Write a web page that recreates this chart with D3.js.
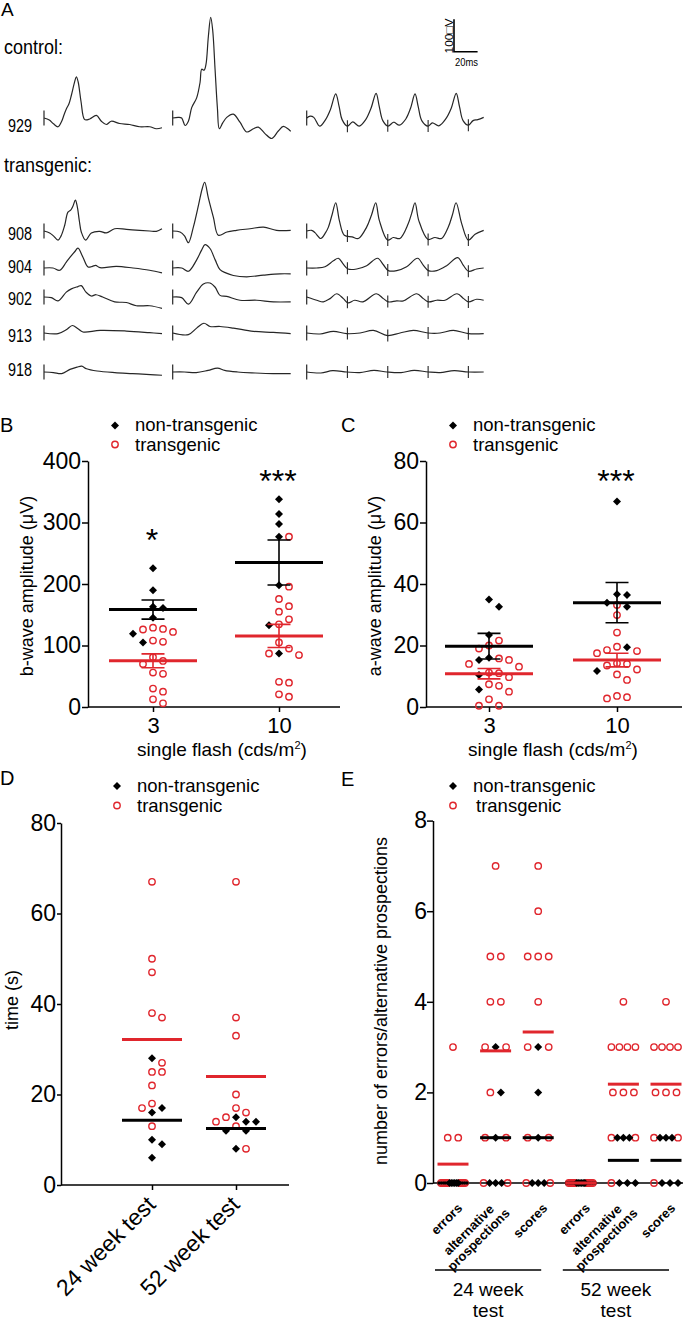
<!DOCTYPE html>
<html>
<head>
<meta charset="utf-8">
<script src="https://cdn.jsdelivr.net/npm/d3@7"></script>
<style>
body { margin: 0; background: #fff; }
svg { display: block; font-family: "Liberation Sans", Arial, sans-serif; }
</style>
</head>
<body>
<svg id="fig" width="688" height="1322"></svg>
<script>
"use strict";

// ---- A: ERG traces, points are [ms, uV] ----
var rowLabels = ["929", "908", "904", "902", "913", "918"];
var trace929a = [[0,0],[4.5,-6],[8,-18],[12,-27],[15,-10],[17,10],[19.2,30],[21,42],[23.2,70],[26,112],[27.4,127],[29,110],[31.4,50],[34.5,-5],[38.7,-3],[44.4,8],[48.6,-10],[52.8,-20],[57,-10],[64.1,-17],[72.6,-20],[81.1,-27],[89.5,-27],[95.2,-33],[100,-30]];
var trace929b = [[0,0],[4.8,2],[7.6,0],[10.5,-23],[13.3,-10],[16.1,32],[20.3,62],[23.2,110],[24.6,150],[26.6,147],[28.2,165],[30.2,250],[32.2,310],[33.9,270],[35.9,150],[37.9,30],[39.5,-33],[42.4,-15],[45.8,2],[51.4,12],[57,-13],[62.7,-43],[68.4,-33],[72.6,-28],[78.2,-48],[83.9,-63],[89.5,-40],[93.8,-26],[100,-41]];
var trace929c = [[0,0],[3,6],[6,2],[11,-25],[16,-5],[20,25],[24.6,74],[27.5,35],[30,-5],[34.5,-25],[39,-12],[44.5,-25],[50,-5],[54.5,30],[58.8,76],[61.5,35],[64.5,-8],[68.9,-25],[73.7,-13],[78.5,-22],[84,-3],[88,30],[91.8,74],[94.5,35],[97.5,-8],[102.8,-25],[106.5,-15],[112,-24],[118,-2],[122.5,30],[126.7,76],[129.5,35],[132.5,-8],[137,-22],[141,-8],[145,-5],[150,2]];
var trace908a = [[0,0],[4.8,-6],[8,-15],[11.9,-28],[14.5,-15],[17.5,17],[20.3,58],[22.6,64],[24.6,77],[26.6,95],[28.2,75],[30,30],[31.6,-3],[35.3,-28],[40.1,-6],[47.2,-1],[52.8,-6],[59.9,7],[69.8,5],[81.1,2],[89.5,0],[95.2,-1],[100,7]];
var trace908b = [[0,0],[6.2,-3],[10,-15],[13.3,-36],[17.5,12],[22,82],[25,130],[27.1,150],[30.2,102],[34.5,42],[38.7,-13],[46,-3],[54,2],[65.5,7],[77,12],[88,2],[100,2]];
var trace908c = [[0,0],[4.2,2],[7,-5],[11.9,-23],[16,-5],[18.4,12],[21.5,50],[24.6,87],[27.7,32],[31.9,-13],[38.4,-18],[43.8,-23],[50.8,12],[55,50],[58.5,87],[61.6,32],[68.6,-28],[73.4,-20],[79,-23],[86,22],[89,55],[91.8,87],[95,32],[102.8,-26],[108.6,-20],[114.3,-23],[120,12],[123.5,50],[126.6,87],[131.4,22],[137,-28],[142.7,-10],[150,2]];
var trace904a = [[0,0],[7.6,0],[13.3,-7],[18.9,18],[23.2,38],[26,50],[28.8,61],[33,33],[37.3,3],[41,5],[43.8,8],[47.5,1],[61.3,5],[75.4,0],[89.5,-7],[100,-15]];
var trace904b = [[0,0],[7.6,0],[13.3,-10],[20.3,25],[24.5,55],[27.4,72],[31.6,60],[36,25],[40.1,-5],[45,-15],[51.4,-23],[62.7,-27],[76.8,-22],[90.9,-18],[100,-18]];
var trace904c = [[0,0],[8.5,0],[15.5,4],[22.6,22],[26.8,30],[31,12],[35,-3],[42.4,-3],[50.8,7],[60,30],[65,10],[69.2,-8],[76.3,-8],[84.7,4],[94,30],[98.9,8],[103.1,-8],[110.2,-8],[118.6,7],[128,32],[132.8,8],[137,-10],[144,-3],[150,0]];
var trace902a = [[0,0],[6.2,-2],[11.9,-12],[18.9,15],[23.2,25],[28.8,32],[31.6,35],[35.6,15],[40.1,3],[44.1,7],[49.7,0],[59.9,-15],[69.8,-17],[78.2,-27],[89.5,-27],[100,-35]];
var trace902b = [[0,0],[7.6,-2],[13.3,-22],[20.3,15],[26,40],[31.6,43],[36,30],[40.1,5],[45.8,2],[57,-10],[71.2,-10],[85.3,-15],[100,-15]];
var trace902c = [[0,0],[8.5,-10],[14.1,-15],[19.8,-5],[25.4,10],[31.1,-5],[35,-18],[40.7,-10],[47.7,-15],[59,10],[65,-5],[69.2,-15],[76.3,-12],[81.9,-12],[93.2,10],[98.9,-5],[103.1,-15],[110.2,-10],[117.2,-10],[127.4,10],[133,-5],[137,-15],[144,-7],[150,-10]];
var trace913a = [[0,0],[11.9,-2],[18.9,10],[24,23],[28.8,13],[33,3],[47.5,8],[69.8,6],[89.5,1],[100,-2]];
var trace913b = [[0,0],[13.3,-5],[20.3,15],[26.5,30],[31.6,20],[40.1,20],[51.4,15],[68.4,5],[85.3,2],[100,-2]];
var trace913c = [[0,0],[11.3,-3],[22.6,5],[33.9,-2],[45.2,0],[56.5,8],[68.6,-8],[79.1,0],[90.4,8],[102.8,0],[113,0],[124.3,8],[137,-2],[150,-2]];
var trace918a = [[0,0],[8,-2],[15,-5],[22,8],[28,15],[32,18],[36,10],[45,3],[60,-2],[75,-5],[90,-8],[100,-10]];
var trace918b = [[0,0],[10,0],[20,-2],[30,5],[38,12],[44,5],[55,0],[70,-3],[85,-5],[100,-5]];
var trace918c = [[0,0],[12,-3],[22,4],[34,0],[45,-2],[57,5],[68,0],[80,-2],[91,5],[103,0],[113,-2],[125,4],[137,0],[150,0]];
var flickerMarks = [34.5, 68.7, 102.9, 137];
var scaleBarUv = 100, scaleBarMs = 20;

// ---- B / C: single flash ----
var flashLevels = ["3", "10"];
var bNonTg3 = [225.5, 190, 163, 161, 145, 119, 105];
var bTg3 = [129, 126, 122, 127, 108, 106, 81, 70, 75, 54, 56, 30, 25, 12.5, 6];
var bNonTg10 = [338, 314, 297.5, 277, 198, 133, 87];
var bTg10 = [277, 195.6, 175.6, 164, 155, 142.6, 134.5, 105, 87, 84.5, 95, 41, 39.5, 16.7, 20.6];
var bStars = ["*", "***"], bStarAt = [283, 380];
var cNonTg3 = [32.6, 35, 23.4, 15.3, 16, 10.4, 5.7];
var cTg3 = [21.6, 20, 19, 15.8, 15.3, 14, 13.1, 11.2, 11, 9.7, 7.4, 6.9, 5, 2.5, 0.4, 0.4];
var cNonTg10 = [66.8, 36.7, 36.4, 32.6, 33.9, 19.4, 11.7];
var cTg10 = [33.2, 29.9, 24.2, 18.2, 17.5, 18.5, 19.6, 14.2, 14, 13.5, 12.2, 10.6, 8.8, 3.6, 2.8, 3.2];
var cStars = ["", "***"], cStarAt = [0, 76];

// ---- D: time ----
var dTests = ["24 week test", "52 week test"];
var dNonTg24 = [28, 16, 17, 10, 9, 6];
var dTg24 = [67, 50, 47, 38, 37, 27, 25, 25, 22, 18, 17, 13];
var dNonTg52 = [14, 14, 15, 12, 12, 8];
var dTg52 = [67, 37, 33, 20, 16, 17, 15, 14, 13, 8];

// ---- E: errors / alternative prospections ----
var eMeasures = ["errors", "alternative|prospections", "scores"];
var eTests = ["24 week|test", "52 week|test"];
var eNonTgErr24 = [0, 0, 0, 0, 0, 0];
var eTgErr24 = [3, 1, 1, 0, 0, 0, 0, 0, 0, 0, 0, 0];
var eNonTgAlt24 = [3, 2, 1, 0, 0, 0];
var eTgAlt24 = [7, 5, 5, 4, 4, 3, 3, 2, 1, 1, 0, 0];
var eNonTgSco24 = [3, 2, 1, 0, 0, 0];
var eTgSco24 = [7, 6, 5, 5, 5, 4, 3, 3, 1, 1, 0, 0];
var eNonTgErr52 = [0, 0, 0, 0, 0, 0];
var eTgErr52 = [0, 0, 0, 0, 0, 0, 0, 0, 0, 0];
var eNonTgAlt52 = [1, 1, 1, 0, 0, 0];
var eTgAlt52 = [4, 3, 3, 3, 3, 2, 2, 2, 1, 1, 0];
var eNonTgSco52 = [1, 1, 1, 0, 0, 0];
var eTgSco52 = [4, 3, 3, 3, 3, 2, 2, 2, 1, 1, 0];

var red = "#e0262d", ink = "#000", traceInk = "#262626";
var svg = d3.select("#fig");

function txt(g, x, y, s, size) {
    return g.append("text").attr("x", x).attr("y", y).attr("font-size", size).attr("fill", ink).text(s);
}

function valueAt(tr, t) {
    var i = d3.bisector(function (d) { return d[0]; }).left(tr, t);
    if (i <= 0) return tr[0][1];
    if (i >= tr.length) return tr[tr.length - 1][1];
    var a = tr[i - 1], b = tr[i];
    return a[1] + (b[1] - a[1]) * (t - a[0]) / (b[0] - a[0]);
}

// ---------------- panel A ----------------
var gA = svg.append("g");
var traces = [
    [trace929a, trace929b, trace929c],
    [trace908a, trace908b, trace908c],
    [trace904a, trace904b, trace904c],
    [trace902a, trace902b, trace902c],
    [trace913a, trace913b, trace913c],
    [trace918a, trace918b, trace918c]
];
var rowBase = [118, 231, 268, 297, 333, 372];
var rowLabelY = [132, 240, 273, 305, 342, 376];
var colX = [
    d3.scaleLinear().domain([0, 100]).range([44, 162]),
    d3.scaleLinear().domain([0, 100]).range([172.7, 290.7]),
    d3.scaleLinear().domain([0, 150]).range([306.7, 483.7])
];

txt(gA, 1, 16, "A", 19);
txt(gA, 4, 54, "control:", 21).attr("textLength", 59).attr("lengthAdjust", "spacingAndGlyphs");
txt(gA, 4, 172, "transgenic:", 21).attr("textLength", 88).attr("lengthAdjust", "spacingAndGlyphs");

traces.forEach(function (row, r) {
    var y = d3.scaleLinear().domain([0, 100]).range([rowBase[r], rowBase[r] - 32.5]);
    txt(gA, 8, rowLabelY[r], rowLabels[r], 19).attr("textLength", 24).attr("lengthAdjust", "spacingAndGlyphs");
    row.forEach(function (tr, c) {
        var x = colX[c];
        var line = d3.line()
            .x(function (d) { return x(d[0]); })
            .y(function (d) { return y(d[1]); })
            .curve(d3.curveCatmullRom.alpha(0.5));
        gA.append("path").attr("d", line(tr))
            .attr("fill", "none").attr("stroke", traceInk).attr("stroke-width", 1.2);
        gA.append("line").attr("x1", x(0)).attr("x2", x(0))
            .attr("y1", rowBase[r] - 7.5).attr("y2", rowBase[r] + 7.5)
            .attr("stroke", traceInk).attr("stroke-width", 1.2);
        if (c === 2) {
            flickerMarks.forEach(function (t) {
                var yy = y(valueAt(tr, t));
                gA.append("line").attr("x1", x(t)).attr("x2", x(t))
                    .attr("y1", yy - 6).attr("y2", yy + 6)
                    .attr("stroke", traceInk).attr("stroke-width", 1.1);
            });
        }
    });
});

// scale bar
var sbX = d3.scaleLinear().domain([0, 100]).range([0, 118]);
var sbY = d3.scaleLinear().domain([0, 100]).range([0, 32.5]);
gA.append("path")
    .attr("d", "M454," + (51.7 - sbY(scaleBarUv)) + "V51.7H" + (454 + sbX(scaleBarMs)))
    .attr("fill", "none").attr("stroke", ink).attr("stroke-width", 1.6);
txt(gA, 0, 0, "100\u25A1V", 11).attr("text-anchor", "middle")
    .attr("transform", "translate(453,36) rotate(-90)")
    .attr("textLength", 35).attr("lengthAdjust", "spacingAndGlyphs");
txt(gA, 455, 66, "20ms", 11).attr("textLength", 23).attr("lengthAdjust", "spacingAndGlyphs");

// ---------------- shared helpers ----------------
function beeswarm(pts, y, cx, step, minD) {
    var placed = [];
    pts.slice().sort(function (a, b) { return b.v - a.v; }).forEach(function (p) {
        var py = y(p.v);
        for (var k = 0; k < 30; k++) {
            var px = cx + (k % 2 ? 1 : -1) * Math.ceil(k / 2) * step;
            var hit = placed.some(function (q) { return Math.hypot(q.x - px, q.y - py) < minD; });
            if (!hit) { placed.push({ x: px, y: py, g: p.g }); break; }
        }
    });
    return placed;
}

function rowSwarm(pts, y, cx, step, maxW) {
    var out = [];
    d3.group(pts, function (d) { return d.v; }).forEach(function (list, v) {
        var n = list.filter(function (d) { return d.g === "n"; });
        var t = list.filter(function (d) { return d.g === "t"; });
        var half = Math.ceil(t.length / 2);
        var ord = t.slice(0, half).concat(n, t.slice(half));
        var s = ord.length > 1 ? Math.min(step, maxW / (ord.length - 1)) : 0;
        ord.forEach(function (p, i) {
            out.push({ x: cx + (i - (ord.length - 1) / 2) * s, y: y(v), g: p.g });
        });
    });
    return out;
}

function tagged(nonTg, tg) {
    return nonTg.map(function (v) { return { v: v, g: "n" }; })
        .concat(tg.map(function (v) { return { v: v, g: "t" }; }));
}

var diamond = d3.symbol(d3.symbolSquare, 32);

function drawMarks(g, pts) {
    g.selectAll(null).data(pts.filter(function (d) { return d.g === "t"; })).enter()
        .append("circle")
        .attr("cx", function (d) { return d.x; }).attr("cy", function (d) { return d.y; })
        .attr("r", 3.2).attr("fill", "none").attr("stroke", red).attr("stroke-width", 1.4);
    g.selectAll(null).data(pts.filter(function (d) { return d.g === "n"; })).enter()
        .append("path").attr("d", diamond)
        .attr("transform", function (d) { return "translate(" + d.x + "," + d.y + ") rotate(45)"; })
        .attr("fill", ink);
}

function drawStats(g, vals, cx, y, color, halfW, withSem) {
    var m = d3.mean(vals);
    if (withSem) {
        var s = d3.deviation(vals) / Math.sqrt(vals.length);
        g.append("path")
            .attr("d", "M" + cx + "," + y(m - s) + "V" + y(m + s) +
                "M" + (cx - 11.5) + "," + y(m + s) + "H" + (cx + 11.5) +
                "M" + (cx - 11.5) + "," + y(m - s) + "H" + (cx + 11.5))
            .attr("fill", "none").attr("stroke", color).attr("stroke-width", 1.6);
    }
    g.append("line").attr("x1", cx - halfW).attr("x2", cx + halfW)
        .attr("y1", y(m)).attr("y2", y(m))
        .attr("stroke", color).attr("stroke-width", 3);
}

function legend(g, x, yTop, textX1, textX2, yGap) {
    g.append("path").attr("d", diamond).attr("transform", "translate(" + x + "," + yTop + ") rotate(45)").attr("fill", ink);
    txt(g, textX1, yTop + 5.5, "non-transgenic", 18.5);
    g.append("circle").attr("cx", x).attr("cy", yTop + yGap).attr("r", 3.2)
        .attr("fill", "none").attr("stroke", red).attr("stroke-width", 1.4);
    txt(g, textX2, yTop + yGap + 6, "transgenic", 18.5);
}

function yAxis(g, y, x0, ticks, tickLen, pad) {
    var a = g.append("g").attr("transform", "translate(" + x0 + ",0)")
        .call(d3.axisLeft(y).tickValues(ticks).tickSize(tickLen).tickSizeOuter(0).tickPadding(pad));
    a.attr("font-size", 23).attr("font-family", null);
    a.selectAll("path,line").attr("stroke", ink).attr("stroke-width", 1.5);
    a.selectAll("text").attr("fill", ink);
    return a;
}

function xAxisLine(g, x0, x1, y0) {
    g.append("line").attr("x1", x0).attr("x2", x1).attr("y1", y0).attr("y2", y0)
        .attr("stroke", ink).attr("stroke-width", 1.5);
}

function rotLabel(g, x, y, s, size, angle) {
    txt(g, 0, 0, s, size).attr("text-anchor", "middle")
        .attr("transform", "translate(" + x + "," + y + ") rotate(" + angle + ")");
}

// ---------------- panels B and C ----------------
function flashPanel(o) {
    var g = svg.append("g");
    var y = d3.scaleLinear().domain(o.domain).range([707, 461]);
    var x = d3.scalePoint().domain(flashLevels).range(o.catRange);
    txt(g, o.letterX, 432, o.letter, 20);
    legend(g, o.legX, 425.5, o.legX + 20, o.legX + 20, 19);

    yAxis(g, y, o.axisX, o.ticks, 6, 1);
    xAxisLine(g, o.axisX, o.axisEnd, 707);
    var xa = g.append("g").attr("transform", "translate(0,707)")
        .call(d3.axisBottom(x).tickSize(5).tickPadding(5));
    xa.attr("font-size", 22).attr("font-family", null);
    xa.select(".domain").remove();
    xa.selectAll("line").attr("stroke", ink).attr("stroke-width", 1.5);
    xa.selectAll("text").attr("fill", ink);

    rotLabel(g, o.yLabelX, 586, o.yLabel, 18, -90);
    var xl = txt(g, o.xLabelX, 756, "single flash (cds/m", 19).attr("text-anchor", "middle");
    xl.append("tspan").attr("font-size", 11).attr("dy", -7).text("2");
    xl.append("tspan").attr("dy", 7).text(")");

    var sets = [[o.non[0], o.tg[0]], [o.non[1], o.tg[1]]];
    sets.forEach(function (s, i) {
        var cx = x(flashLevels[i]);
        drawMarks(g, beeswarm(tagged(s[0], s[1]), y, cx, 10, 9));
        drawStats(g, s[0], cx, y, ink, 44, true);
        drawStats(g, s[1], cx, y, red, 44, true);
        if (o.stars[i]) {
            txt(g, cx - 1, y(o.starAt[i]) + 18.5, o.stars[i], 32).attr("text-anchor", "middle");
        }
    });
}

flashPanel({
    letter: "B", letterX: 0, legX: 115, domain: [0, 400], ticks: [0, 100, 200, 300, 400],
    axisX: 88, axisEnd: 340, catRange: [153, 279], yLabel: "b-wave amplitude (\u03bcV)", yLabelX: 33, xLabelX: 222,
    non: [bNonTg3, bNonTg10], tg: [bTg3, bTg10], stars: bStars, starAt: bStarAt
});
flashPanel({
    letter: "C", letterX: 341, legX: 453, domain: [0, 80], ticks: [0, 20, 40, 60, 80],
    axisX: 426, axisEnd: 682, catRange: [489, 617], yLabel: "a-wave amplitude (\u03bcV)", yLabelX: 381, xLabelX: 553,
    non: [cNonTg3, cNonTg10], tg: [cTg3, cTg10], stars: cStars, starAt: cStarAt
});

// ---------------- panel D ----------------
(function () {
    var g = svg.append("g");
    var y = d3.scaleLinear().domain([0, 80]).range([1185, 823]);
    var x = d3.scalePoint().domain(dTests).range([152, 236]);
    txt(g, 0, 785, "D", 20);
    legend(g, 117, 786, 137, 137, 19.5);
    yAxis(g, y, 61, [0, 20, 40, 60, 80], 4, 1);
    xAxisLine(g, 61, 289, 1185);
    var xa = g.append("g").attr("transform", "translate(0,1185)")
        .call(d3.axisBottom(x).tickSize(5).tickFormat(""));
    xa.select(".domain").remove();
    xa.selectAll("line").attr("stroke", ink).attr("stroke-width", 1.5);
    dTests.forEach(function (t) {
        txt(g, 0, 0, t, 23).attr("text-anchor", "end")
            .attr("transform", "translate(" + (x(t) + 5) + ",1206) rotate(-45)");
    });
    rotLabel(g, 18, 1000, "time (s)", 18, -90);

    var sets = [[dNonTg24, dTg24], [dNonTg52, dTg52]];
    sets.forEach(function (s, i) {
        var cx = x(dTests[i]);
        drawMarks(g, beeswarm(tagged(s[0], s[1]), y, cx, 10, 9));
        drawStats(g, s[0], cx, y, ink, 30, false);
        drawStats(g, s[1], cx, y, red, 30, false);
    });
})();

// ---------------- panel E ----------------
(function () {
    var g = svg.append("g");
    var cols = [
        [eNonTgErr24, eTgErr24], [eNonTgAlt24, eTgAlt24], [eNonTgSco24, eTgSco24],
        [eNonTgErr52, eTgErr52], [eNonTgAlt52, eTgAlt52], [eNonTgSco52, eTgSco52]
    ];
    var keys = d3.range(cols.length);
    var y = d3.scaleLinear().domain([0, 8]).range([1183, 820.6]);
    var x = d3.scalePoint().domain(keys).range([453, 666]);
    txt(g, 341, 786, "E", 20);
    legend(g, 453, 786, 473, 476, 19.5);
    yAxis(g, y, 433, [0, 2, 4, 6, 8], 6, 0);
    xAxisLine(g, 433, 683, 1183);
    rotLabel(g, 387, 1001, "number of errors/alternative prospections", 18, -90);

    cols.forEach(function (s, i) {
        var cx = x(i);
        drawMarks(g, rowSwarm(tagged(s[0], s[1]), y, cx, 10.5, 24));
        drawStats(g, s[0], cx, y, ink, 15.5, false);
        drawStats(g, s[1], cx, y, red, 15.5, false);

        var lines = eMeasures[i % 3].split("|");
        var lg = g.append("g").attr("transform", "translate(" + (cx + 10) + ",1209) rotate(-45)");
        var tx = lines.map(function (l, j) {
            return lg.append("text").attr("font-size", 13).attr("font-weight", "bold")
                .attr("text-anchor", "middle").attr("fill", ink)
                .attr("y", (j - (lines.length - 1) / 2) * 14).text(l);
        });
        var maxL = d3.max(tx, function (t) { return t.node().getComputedTextLength(); });
        tx.forEach(function (t) { t.attr("x", -maxL / 2); });
    });

    eTests.forEach(function (t, k) {
        var x0 = x(k * 3) - 18, x1 = x(k * 3 + 2) + 3;
        g.append("line").attr("x1", x0).attr("x2", x1).attr("y1", 1270).attr("y2", 1270)
            .attr("stroke", ink).attr("stroke-width", 1.5);
        t.split("|").forEach(function (l, j) {
            txt(g, (x0 + x1) / 2, 1296 + j * 21, l, 19).attr("text-anchor", "middle");
        });
    });
})();
</script>
</body>
</html>
